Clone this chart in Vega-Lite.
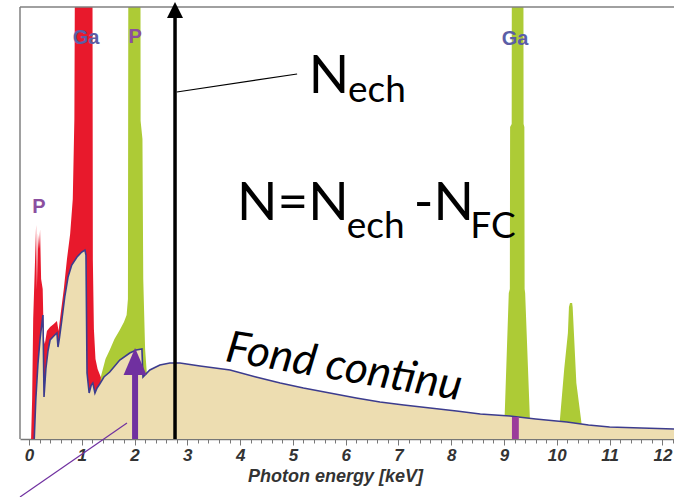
{
  "$schema": "https://vega.github.io/schema/vega-lite/v6.json",
  "width": 654,
  "height": 432,
  "autosize": {"type": "none"},
  "padding": {"left": 20, "top": 7, "right": 0, "bottom": 58},
  "background": "white",
  "config": {"view": {"stroke": null}},
  "datasets": {
    "red": [
      {"keV": 0.04, "counts": 0}, {"keV": 0.06, "counts": 40}, {"keV": 0.08, "counts": 120}, {"keV": 0.11, "counts": 170},
      {"keV": 0.135, "counts": 214}, {"keV": 0.15, "counts": 150}, {"keV": 0.17, "counts": 205}, {"keV": 0.19, "counts": 190},
      {"keV": 0.21, "counts": 209}, {"keV": 0.23, "counts": 160}, {"keV": 0.26, "counts": 150}, {"keV": 0.28, "counts": 100},
      {"keV": 0.30, "counts": 95}, {"keV": 0.34, "counts": 108}, {"keV": 0.40, "counts": 112}, {"keV": 0.47, "counts": 115},
      {"keV": 0.53, "counts": 118}, {"keV": 0.56, "counts": 108}, {"keV": 0.60, "counts": 125}, {"keV": 0.66, "counts": 150},
      {"keV": 0.72, "counts": 180}, {"keV": 0.78, "counts": 205}, {"keV": 0.83, "counts": 240}, {"keV": 0.86, "counts": 320},
      {"keV": 0.88, "counts": 600}, {"keV": 1.20, "counts": 600}, {"keV": 1.21, "counts": 180}, {"keV": 1.23, "counts": 110},
      {"keV": 1.26, "counts": 80}, {"keV": 1.30, "counts": 70}, {"keV": 1.36, "counts": 62}, {"keV": 1.42, "counts": 58},
      {"keV": 1.46, "counts": 0}
    ],
    "green": [
      {"keV": 1.33, "counts": 0}, {"keV": 1.36, "counts": 62}, {"keV": 1.45, "counts": 80}, {"keV": 1.53, "counts": 89},
      {"keV": 1.62, "counts": 100}, {"keV": 1.72, "counts": 109}, {"keV": 1.80, "counts": 117}, {"keV": 1.85, "counts": 124},
      {"keV": 1.875, "counts": 140}, {"keV": 1.885, "counts": 600}, {"keV": 2.11, "counts": 600}, {"keV": 2.115, "counts": 318},
      {"keV": 2.15, "counts": 300}, {"keV": 2.165, "counts": 160}, {"keV": 2.20, "counts": 90}, {"keV": 2.24, "counts": 60},
      {"keV": 2.26, "counts": 0}, {"keV": 8.98, "counts": 0}, {"keV": 9.01, "counts": 20}, {"keV": 9.09, "counts": 146},
      {"keV": 9.11, "counts": 150}, {"keV": 9.115, "counts": 312}, {"keV": 9.145, "counts": 315}, {"keV": 9.15, "counts": 600},
      {"keV": 9.365, "counts": 600}, {"keV": 9.37, "counts": 315}, {"keV": 9.385, "counts": 312}, {"keV": 9.39, "counts": 150},
      {"keV": 9.40, "counts": 146}, {"keV": 9.49, "counts": 20}, {"keV": 9.52, "counts": 0}, {"keV": 10.02, "counts": 0},
      {"keV": 10.06, "counts": 20}, {"keV": 10.14, "counts": 70}, {"keV": 10.21, "counts": 106}, {"keV": 10.23, "counts": 132},
      {"keV": 10.25, "counts": 136}, {"keV": 10.29, "counts": 136}, {"keV": 10.30, "counts": 132}, {"keV": 10.37, "counts": 56},
      {"keV": 10.46, "counts": 19}, {"keV": 10.50, "counts": 0}
    ],
    "fc": [
      {"keV": 0.10, "counts": 0}, {"keV": 0.13, "counts": 40}, {"keV": 0.17, "counts": 75}, {"keV": 0.21, "counts": 100},
      {"keV": 0.25, "counts": 118}, {"keV": 0.265, "counts": 124}, {"keV": 0.285, "counts": 42}, {"keV": 0.32, "counts": 70},
      {"keV": 0.36, "counts": 88}, {"keV": 0.40, "counts": 99}, {"keV": 0.47, "counts": 103}, {"keV": 0.53, "counts": 106},
      {"keV": 0.55, "counts": 92}, {"keV": 0.58, "counts": 102}, {"keV": 0.62, "counts": 118}, {"keV": 0.68, "counts": 143},
      {"keV": 0.74, "counts": 162}, {"keV": 0.81, "counts": 174}, {"keV": 0.91, "counts": 182}, {"keV": 1.00, "counts": 187},
      {"keV": 1.06, "counts": 189}, {"keV": 1.08, "counts": 184}, {"keV": 1.10, "counts": 66}, {"keV": 1.14, "counts": 46},
      {"keV": 1.18, "counts": 54}, {"keV": 1.21, "counts": 56}, {"keV": 1.25, "counts": 46}, {"keV": 1.29, "counts": 51},
      {"keV": 1.34, "counts": 55}, {"keV": 1.42, "counts": 62}, {"keV": 1.53, "counts": 67}, {"keV": 1.72, "counts": 79},
      {"keV": 1.91, "counts": 86}, {"keV": 2.03, "counts": 89}, {"keV": 2.14, "counts": 90}, {"keV": 2.16, "counts": 62},
      {"keV": 2.29, "counts": 69}, {"keV": 2.48, "counts": 74}, {"keV": 2.67, "counts": 76}, {"keV": 2.86, "counts": 76},
      {"keV": 3.24, "counts": 73}, {"keV": 3.81, "counts": 69}, {"keV": 4.30, "counts": 62}, {"keV": 4.76, "counts": 56},
      {"keV": 5.20, "counts": 51}, {"keV": 5.70, "counts": 46}, {"keV": 6.20, "counts": 41}, {"keV": 6.65, "counts": 37},
      {"keV": 7.10, "counts": 34}, {"keV": 7.60, "counts": 31}, {"keV": 8.10, "counts": 28}, {"keV": 8.55, "counts": 25},
      {"keV": 9.11, "counts": 23}, {"keV": 9.60, "counts": 20}, {"keV": 10.19, "counts": 17}, {"keV": 10.60, "counts": 14},
      {"keV": 11.00, "counts": 12}, {"keV": 11.60, "counts": 11}, {"keV": 12.25, "counts": 10}
    ],
    "marker": [{"keV": 9.15, "keV2": 9.28, "counts": 0, "counts2": 22}],
    "frameTop": [{"keV": -0.17, "keV2": 12.22, "counts": 432}],
    "frameLeft": [{"keV": -0.17, "counts": 0, "counts2": 432}],
    "blackShaft": [{"keV": 2.767, "counts": 0, "counts2": 424}],
    "blackHead": [{"keV": 2.767, "counts": 429}],
    "connector": [{"keV": 2.80, "counts": 347}, {"keV": 5.08, "counts": 365}],
    "purpleShaft": [{"keV": 2.01, "counts": 0, "counts2": 64}],
    "purpleHead": [{"keV": 2.01, "counts": 77.5}],
    "purpleLine": [{"keV": 1.857, "counts": 16}, {"keV": -0.17, "counts": -58}],
    "peakLabels": [
      {"keV": 1.08, "counts": 395, "label": "Ga", "element": "Ga"},
      {"keV": 2.01, "counts": 396, "label": "P", "element": "P"},
      {"keV": 0.19, "counts": 226, "label": "P", "element": "P"},
      {"keV": 9.21, "counts": 394, "label": "Ga", "element": "Ga"}
    ],
    "bigText": [
      {"keV": 5.30, "counts": 346, "label": "N"},
      {"keV": 3.94, "counts": 219, "label": "N=N"},
      {"keV": 7.29, "counts": 219, "label": "-N"}
    ],
    "subText": [
      {"keV": 6.045, "counts": 337, "label": "ech"},
      {"keV": 6.02, "counts": 201, "label": "ech"},
      {"keV": 8.36, "counts": 201, "label": "FC"}
    ],
    "fondText": [{"keV": 3.70, "counts": 78, "label": "Fond continu"}]
  },
  "encoding": {
    "x": {
      "field": "keV",
      "type": "quantitative",
      "scale": {"domain": [-0.17, 12.22], "nice": false, "zero": false},
      "axis": {
        "values": [0, 0.2, 0.4, 0.6, 0.8, 1, 1.2, 1.4, 1.6, 1.8, 2, 2.2, 2.4, 2.6, 2.8, 3, 3.2, 3.4, 3.6, 3.8, 4, 4.2, 4.4, 4.6, 4.8, 5, 5.2, 5.4, 5.6, 5.8, 6, 6.2, 6.4, 6.6, 6.8, 7, 7.2, 7.4, 7.6, 7.8, 8, 8.2, 8.4, 8.6, 8.8, 9, 9.2, 9.4, 9.6, 9.8, 10, 10.2, 10.4, 10.6, 10.8, 11, 11.2, 11.4, 11.6, 11.8, 12, 12.2],
        "labelExpr": "datum.value % 1 === 0 ? format(datum.value, 'd') : ''",
        "tickSize": {"condition": {"test": "datum.value % 1 === 0", "value": 6}, "value": 4},
        "labelFont": "Liberation Sans",
        "labelFontWeight": "bold",
        "labelFontStyle": "italic",
        "labelFontSize": 17,
        "labelColor": "#333333",
        "labelBaseline": "alphabetic",
        "labelPadding": 15,
        "labelFlush": false,
        "labelOverlap": false,
        "domainColor": "#777777",
        "domainWidth": 1.5,
        "tickColor": "#777777",
        "tickWidth": 1,
        "grid": false,
        "title": "Photon energy [keV]",
        "titleFont": "Liberation Sans",
        "titleFontWeight": "bold",
        "titleFontStyle": "italic",
        "titleFontSize": 18,
        "titleColor": "#333333",
        "titleAnchor": "start",
        "titleAlign": "center",
        "titleX": 315,
        "titleY": 42,
        "titleBaseline": "alphabetic"
      }
    },
    "y": {
      "field": "counts",
      "type": "quantitative",
      "scale": {"domain": [0, 432], "nice": false, "zero": false},
      "axis": null
    }
  },
  "layer": [
    {"data": {"name": "red"}, "mark": {"type": "area", "color": "#E8192C", "clip": true}},
    {"data": {"name": "green"}, "mark": {"type": "area", "color": "#ADCB36", "clip": true}},
    {"data": {"name": "fc"}, "mark": {"type": "area", "color": "#EDDDB1", "clip": true}},
    {"data": {"name": "fc"}, "mark": {"type": "line", "color": "#3C3C8E", "strokeWidth": 1.6, "clip": true}},
    {"data": {"name": "marker"}, "mark": {"type": "rect", "color": "#9B3C9B"}, "encoding": {"x2": {"field": "keV2"}, "y2": {"field": "counts2"}}},
    {"data": {"name": "frameTop"}, "mark": {"type": "rule", "color": "#808080", "strokeWidth": 1.5}, "encoding": {"x2": {"field": "keV2"}}},
    {"data": {"name": "frameLeft"}, "mark": {"type": "rule", "color": "#808080", "strokeWidth": 1.5}, "encoding": {"y2": {"field": "counts2"}}},
    {"data": {"name": "blackShaft"}, "mark": {"type": "rule", "color": "black", "strokeWidth": 3.5}, "encoding": {"y2": {"field": "counts2"}}},
    {"data": {"name": "blackHead"}, "mark": {"type": "point", "shape": "M0,-1L1,1L-1,1Z", "size": 256, "filled": true, "color": "black", "opacity": 1}},
    {"data": {"name": "connector"}, "mark": {"type": "line", "color": "black", "strokeWidth": 1.2}},
    {"data": {"name": "purpleShaft"}, "mark": {"type": "rule", "color": "#7030A0", "strokeWidth": 6}, "encoding": {"y2": {"field": "counts2"}}},
    {"data": {"name": "purpleHead"}, "mark": {"type": "point", "shape": "M0,-1L0.85,1L-0.85,1Z", "size": 729, "filled": true, "color": "#7030A0", "opacity": 1}},
    {"data": {"name": "purpleLine"}, "mark": {"type": "line", "color": "#7030A0", "strokeWidth": 1.2}},
    {
      "data": {"name": "peakLabels"},
      "mark": {"type": "text", "font": "Liberation Sans", "fontWeight": "bold", "fontSize": 20, "align": "center", "baseline": "alphabetic"},
      "encoding": {
        "text": {"field": "label"},
        "color": {"field": "element", "type": "nominal", "scale": {"domain": ["Ga", "P"], "range": ["#5B5EA6", "#8B4FA0"]}, "legend": null}
      }
    },
    {
      "data": {"name": "bigText"},
      "mark": {"type": "text", "font": "Lato", "fontSize": 53, "align": "left", "baseline": "alphabetic", "color": "black"},
      "encoding": {"text": {"field": "label"}}
    },
    {
      "data": {"name": "subText"},
      "mark": {"type": "text", "font": "Lato", "fontSize": 37, "align": "left", "baseline": "alphabetic", "color": "black"},
      "encoding": {"text": {"field": "label"}}
    },
    {
      "data": {"name": "fondText"},
      "mark": {"type": "text", "font": "Lato", "fontStyle": "italic", "fontSize": 44, "angle": 9.5, "align": "left", "baseline": "alphabetic", "color": "black"},
      "encoding": {"text": {"field": "label"}}
    }
  ]
}
